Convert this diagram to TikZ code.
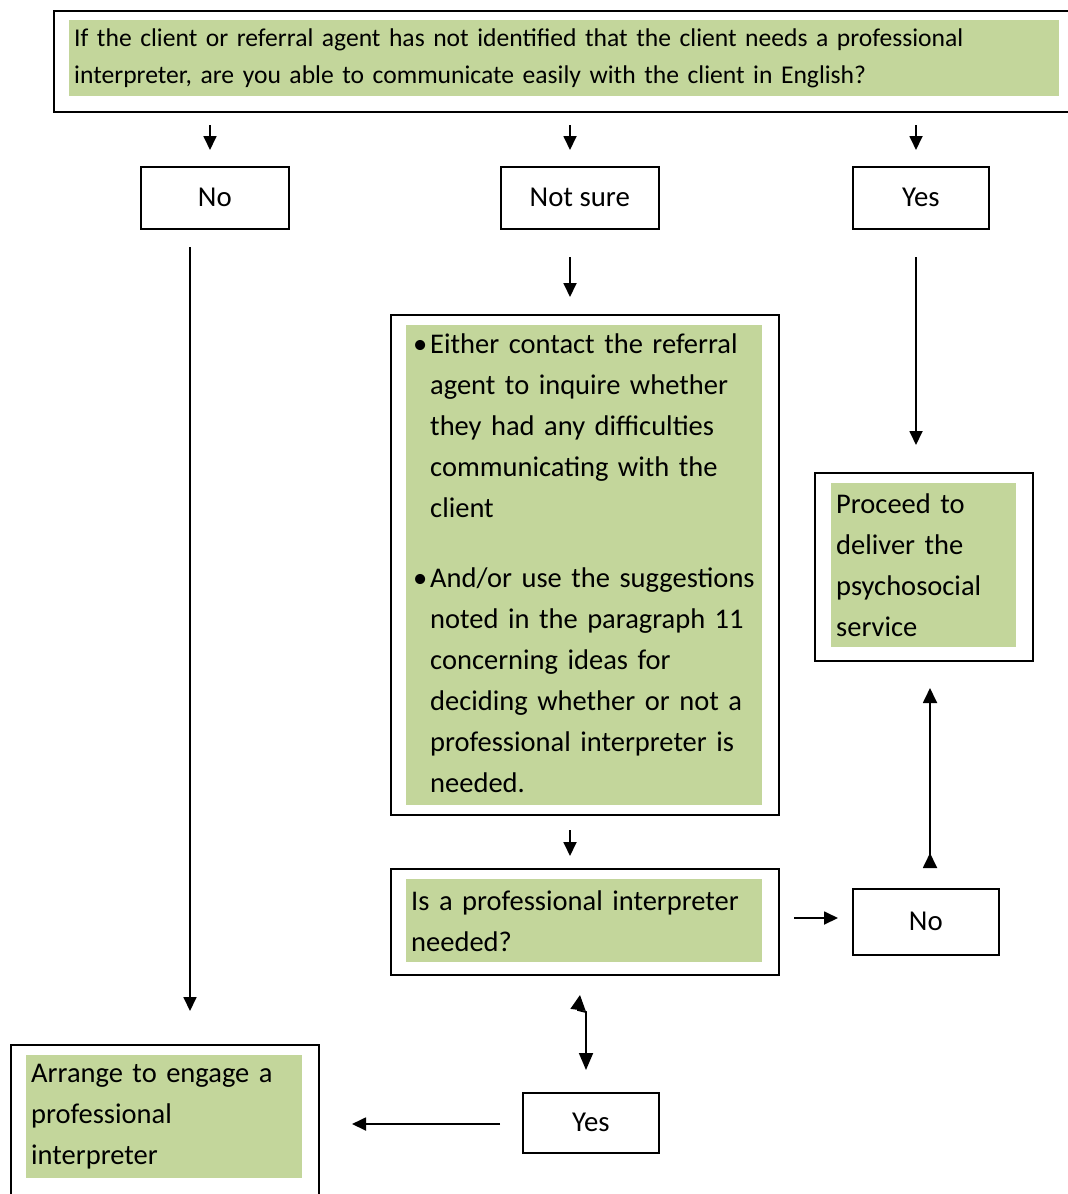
\documentclass[tikz,border=0pt]{standalone}
\usepackage{fontspec}
\setmainfont{Carlito}
\usetikzlibrary{arrows.meta}
\definecolor{hl}{HTML}{C3D69B}
\tikzset{
  outerbox/.style={draw, line width=1.6pt, inner sep=0pt, anchor=north west},
  gbox/.style={fill=hl, anchor=north west, inner ysep=0pt, inner xsep=5pt, align=left,
     font=\fontsize{28.5}{41}\selectfont},
  lbl/.style={font=\fontsize{28.8}{30}\selectfont},
  arr/.style={line width=1.8pt, -{Triangle[width=13pt,length=14pt]}},
}
\begin{document}
\begin{tikzpicture}[x=1pt,y=-1pt]
\useasboundingbox (0,0) rectangle (1068,1194);
% top question
\node[outerbox, minimum width=1030pt, minimum height=101pt] (topo) at (53,10) {};
\node[gbox, text width=980pt, minimum height=76pt, font=\fontsize{25.6}{37}\selectfont] (top) at (69,20)
 {If the client or referral agent has not identified that the client needs a professional\\
  interpreter, are you able to communicate easily with the client in English?};
% answers
\node[outerbox, minimum width=148pt, minimum height=62pt] (no1) at (140,166) {};
\node[lbl] (no1t) at (no1.center) {No};
\node[outerbox, minimum width=158pt, minimum height=62pt] (ns) at (500,166) {};
\node[lbl] (nst) at (ns.center) {Not sure};
\node[outerbox, minimum width=136pt, minimum height=62pt] (yes1) at (852,166) {};
\node[lbl] (yes1t) at (yes1.center) {Yes};
% middle box
\node[outerbox, minimum width=388pt, minimum height=500pt] (mido) at (390,314) {};
\node[gbox, text width=356pt, inner xsep=0pt, minimum height=479pt] (mid) at (406,325)
 {\begin{tabular}{@{\hspace{7pt}}p{17pt}@{}l@{}}
  • & Either contact the referral\\
    & agent to inquire whether\\
    & they had any difficulties\\
    & communicating with the\\
    & client\\[29pt]
  • & And/or use the suggestions\\
    & noted in the paragraph 11\\
    & concerning ideas for\\
    & deciding whether or not a\\
    & professional interpreter is\\
    & needed.
  \end{tabular}};
% proceed
\node[outerbox, minimum width=218pt, minimum height=188pt] (proo) at (814,472) {};
\node[gbox, text width=175pt, minimum height=164pt] (pro) at (831,483)
 {Proceed to\\ deliver the\\ psychosocial\\ service};
% needed?
\node[outerbox, minimum width=388pt, minimum height=106pt] (needo) at (390,868) {};
\node[gbox, text width=346pt, minimum height=83pt] (need) at (406,879)
 {Is a professional interpreter\\ needed?};
\node[outerbox, minimum width=146pt, minimum height=66pt] (no2) at (852,888) {};
\node[lbl] (no2t) at (no2.center) {No};
\node[outerbox, minimum width=136pt, minimum height=60pt] (yes2) at (522,1092) {};
\node[lbl] (yes2t) at (yes2.center) {Yes};
% arrange
\node[outerbox, minimum width=308pt, minimum height=170pt] (arro) at (10,1044) {};
\node[gbox, text width=266pt, minimum height=123pt] (arrg) at (26,1055)
 {Arrange to engage a\\ professional\\ interpreter};
% connectors
\draw[arr] (210,125) -- (210,150);
\draw[arr] (570,125) -- (570,150);
\draw[arr] (916,125) -- (916,150);
\draw[arr] (190,247) -- (190,1011);
\draw[arr] (570,257) -- (570,297);
\draw[arr] (916,257) -- (916,445);
\draw[arr] (570,830) -- (570,856);
\draw[arr] (794,918) -- (838,918);
\draw[line width=1.8pt, {Triangle[reversed,width=14pt,length=15pt]}-{Triangle[width=14pt,length=15pt]}] (930,868) -- (930,688);
\draw[line width=1.8pt, {Triangle[width=15pt,length=15pt]}-{Triangle[width=14pt,length=17pt]}] (580,995) -- (578,1010) -- (586,1012) -- (586,1070);
\draw[arr] (500,1124) -- (352,1124);
\end{tikzpicture}
\end{document}
